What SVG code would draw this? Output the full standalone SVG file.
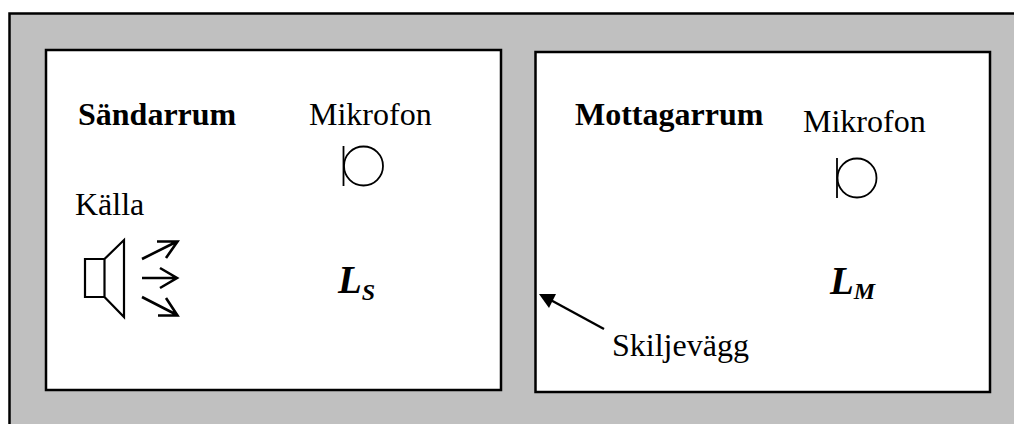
<svg xmlns="http://www.w3.org/2000/svg" width="1014" height="424" viewBox="0 0 1014 424">
<style>
.frame{stroke:#000;stroke-width:2.5}
.line{fill:none;stroke:#000;stroke-width:2.2}
.arrow{fill:none;stroke:#000;stroke-width:2.6}
.thin{fill:none;stroke:#000;stroke-width:1.8}
text{font-family:"Liberation Serif","Times New Roman",serif;fill:#000}
.t{font-size:32px}
.b{font-size:32px;font-weight:bold}
.l{font-size:39px;font-weight:bold;font-style:italic}
.s{font-size:24px;font-weight:bold;font-style:italic}
</style>
<defs>
<g id="mic"><path class="thin" d="M0 0V40"/><circle class="thin" cx="20" cy="20" r="19.500"/></g>
</defs>
<rect width="1014" height="424" fill="#fff"/>
<g id="wall"><rect x="9" y="13" width="1005" height="411" fill="#c0c0c0"/><path class="frame" fill="none" d="M9.500 424V13.500H1014"/></g>
<g id="sandarrum"><rect class="frame" x="46" y="50" width="455" height="340" fill="#fff"/>
<text class="b" x="78" y="125">Sändarrum</text></g>
<g id="mottagarrum"><rect class="frame" x="535.500" y="52" width="454.500" height="340" fill="#fff"/>
<text class="b" x="575" y="125">Mottagarrum</text></g>
<g id="mic-s"><text class="t" x="309" y="125">Mikrofon</text><use href="#mic" x="343.500" y="146"/></g>
<g id="mic-m"><text class="t" x="803" y="132">Mikrofon</text><use href="#mic" x="837" y="158"/></g>
<g id="kalla"><text class="t" x="75" y="215">Källa</text>
<path class="line" d="M85 259H104.500V297H85ZM104.500 259L124 240V317L104.500 297"/></g>
<g id="ls"><text class="l" x="338" y="293">L<tspan class="s" dy="7">S</tspan></text></g>
<g id="lm"><text class="l" x="830" y="294">L<tspan class="s" dy="5">M</tspan></text></g>
<g id="skiljevagg"><text class="t" x="612" y="356">Skiljevägg</text></g>
<g id="connectors">
<path class="arrow" d="M142 259L177 241.500M157 241.500H177.500L166 258"/>
<path class="arrow" d="M142 278H177M160 268L177 278L160 288"/>
<path class="arrow" d="M142 297L177 315M166 298L177.500 315.500H158"/>
<path d="M604 329L547 298" stroke="#000" stroke-width="2.400" fill="none"/>
<path d="M539 294L556 294L549 308Z" fill="#000"/>
</g>
</svg>
